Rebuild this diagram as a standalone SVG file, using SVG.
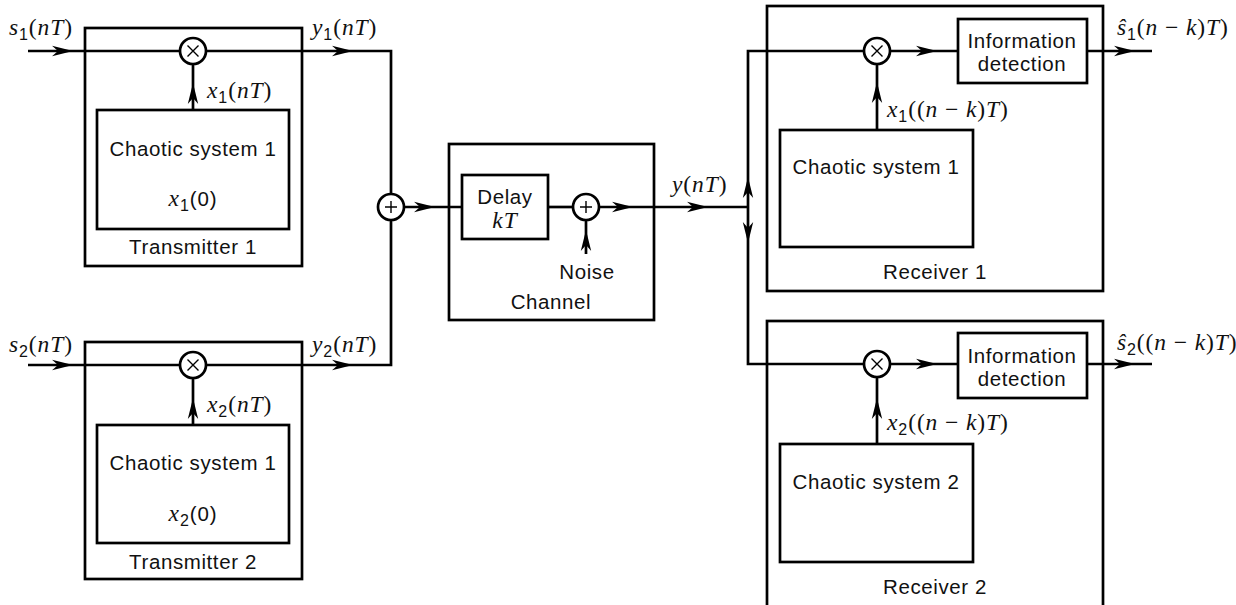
<svg xmlns="http://www.w3.org/2000/svg" width="1236" height="605" viewBox="0 0 1236 605">
<style>
.bx{fill:none;stroke:#000;stroke-width:2.7}
.ln{fill:none;stroke:#000;stroke-width:2.7}
.op{fill:#fff;stroke:#000;stroke-width:2.7}
.sym{fill:none;stroke:#000;stroke-width:1.4}
.t{font-family:"Liberation Sans",Arial,sans-serif;font-size:20.5px;letter-spacing:0.6px;fill:#111}
.c{text-anchor:middle}
.m{font-family:"Liberation Serif","Times New Roman",serif;font-size:23.5px;letter-spacing:0.9px;fill:#111}
.i{font-style:italic}
.sb{font-family:"Liberation Sans",Arial,sans-serif;font-size:16px}
.sf{font-family:"Liberation Sans",Arial,sans-serif;font-size:20.5px}
</style>
<defs>
<path id="ah" d="M0,0 L-21,-5.2 L-15,0 L-21,5.2 Z" fill="#000"/>
<g id="mul"><circle r="13" class="op"/><path class="sym" d="M-5.5,-5.5 L5.5,5.5 M-5.5,5.5 L5.5,-5.5"/></g>
<g id="add"><circle r="13" class="op"/><path class="sym" d="M-6,0 L6,0 M0,-6 L0,6"/></g>
</defs>

<g id="connectors">
<!-- transmitter 1 -->
<path class="ln" d="M28,51 L180,51"/>
<path class="ln" d="M206,51 L391,51 L391,194"/>
<path class="ln" d="M193,110 L193,64"/>
<use href="#ah" transform="translate(73,51)"/>
<use href="#ah" transform="translate(353,51)"/>
<use href="#ah" transform="translate(193,83) rotate(-90)"/>
<!-- transmitter 2 -->
<path class="ln" d="M28,365 L180,365"/>
<path class="ln" d="M206,365 L391,365 L391,220"/>
<path class="ln" d="M193,425 L193,378"/>
<use href="#ah" transform="translate(73,365)"/>
<use href="#ah" transform="translate(353,365)"/>
<use href="#ah" transform="translate(193,398) rotate(-90)"/>
<!-- sum to channel -->
<path class="ln" d="M404,207 L462,207"/>
<use href="#ah" transform="translate(435,207)"/>
<path class="ln" d="M548,207 L573,207"/>
<path class="ln" d="M599,207 L748,207"/>
<use href="#ah" transform="translate(633,207)"/>
<use href="#ah" transform="translate(708,207)"/>
<path class="ln" d="M586,254 L586,220"/>
<use href="#ah" transform="translate(586,230) rotate(-90)"/>
<!-- distribution -->
<path class="ln" d="M864,51 L748,51 L748,364 L864,364"/>
<use href="#ah" transform="translate(748,177) rotate(-90)"/>
<use href="#ah" transform="translate(748,243) rotate(90)"/>
<!-- receiver 1 -->
<path class="ln" d="M890,51 L958,51"/>
<use href="#ah" transform="translate(937,51)"/>
<path class="ln" d="M1087,51 L1152,51"/>
<use href="#ah" transform="translate(1135,51)"/>
<path class="ln" d="M877,130 L877,64"/>
<use href="#ah" transform="translate(877,82) rotate(-90)"/>
<!-- receiver 2 -->
<path class="ln" d="M890,364 L958,364"/>
<use href="#ah" transform="translate(937,364)"/>
<path class="ln" d="M1087,364 L1152,364"/>
<use href="#ah" transform="translate(1135,364)"/>
<path class="ln" d="M877,444 L877,377"/>
<use href="#ah" transform="translate(877,398) rotate(-90)"/>
</g>

<g id="transmitter1">
<rect class="bx" x="85" y="28" width="217" height="238"/>
<rect class="bx" x="97" y="110" width="192" height="119"/>
<text class="t c" x="193" y="156">Chaotic system 1</text>
<text class="m c" x="193" y="206"><tspan class="i">x</tspan><tspan class="sb" dy="5">1</tspan><tspan class="sf" dy="-5">(0)</tspan></text>
<text class="t c" x="193" y="254">Transmitter 1</text>
<use href="#mul" x="193" y="51"/>
</g>

<g id="transmitter2">
<rect class="bx" x="85" y="342" width="217" height="237"/>
<rect class="bx" x="97" y="425" width="192" height="118"/>
<text class="t c" x="193" y="470">Chaotic system 1</text>
<text class="m c" x="193" y="521"><tspan class="i">x</tspan><tspan class="sb" dy="5">2</tspan><tspan class="sf" dy="-5">(0)</tspan></text>
<text class="t c" x="193" y="569">Transmitter 2</text>
<use href="#mul" x="193" y="365"/>
</g>

<g id="adder">
<use href="#add" x="391" y="207"/>
</g>

<g id="channel">
<rect class="bx" x="449" y="144" width="205" height="176"/>
<rect class="bx" x="462" y="175" width="86" height="64"/>
<text class="t c" x="505" y="204">Delay</text>
<text class="m c" x="505" y="228"><tspan class="i">kT</tspan></text>
<use href="#add" x="586" y="207"/>
<text class="t c" x="587" y="279">Noise</text>
<text class="t c" x="551" y="309">Channel</text>
</g>

<g id="receiver1">
<rect class="bx" x="767" y="6" width="336" height="285"/>
<rect class="bx" x="958" y="19" width="129" height="64"/>
<text class="t c" x="1022" y="48">Information</text>
<text class="t c" x="1022" y="71">detection</text>
<rect class="bx" x="780" y="130" width="193" height="117"/>
<text class="t c" x="876" y="174">Chaotic system 1</text>
<text class="t c" x="935" y="279">Receiver 1</text>
<use href="#mul" x="877" y="51"/>
</g>

<g id="receiver2">
<rect class="bx" x="767" y="321" width="336" height="290"/>
<rect class="bx" x="958" y="333" width="129" height="65"/>
<text class="t c" x="1022" y="363">Information</text>
<text class="t c" x="1022" y="386">detection</text>
<rect class="bx" x="780" y="444" width="193" height="118"/>
<text class="t c" x="876" y="489">Chaotic system 2</text>
<text class="t c" x="935" y="594">Receiver 2</text>
<use href="#mul" x="877" y="364"/>
</g>

<g id="labels">
<text class="m" x="9" y="35"><tspan class="i">s</tspan><tspan class="sb" dy="5">1</tspan><tspan dy="-5">(</tspan><tspan class="i">nT</tspan>)</text>
<text class="m" x="312" y="35"><tspan class="i">y</tspan><tspan class="sb" dy="5">1</tspan><tspan dy="-5">(</tspan><tspan class="i">nT</tspan>)</text>
<text class="m" x="207" y="98"><tspan class="i">x</tspan><tspan class="sb" dy="5">1</tspan><tspan dy="-5">(</tspan><tspan class="i">nT</tspan>)</text>
<text class="m" x="9" y="352"><tspan class="i">s</tspan><tspan class="sb" dy="5">2</tspan><tspan dy="-5">(</tspan><tspan class="i">nT</tspan>)</text>
<text class="m" x="312" y="352"><tspan class="i">y</tspan><tspan class="sb" dy="5">2</tspan><tspan dy="-5">(</tspan><tspan class="i">nT</tspan>)</text>
<text class="m" x="207" y="412"><tspan class="i">x</tspan><tspan class="sb" dy="5">2</tspan><tspan dy="-5">(</tspan><tspan class="i">nT</tspan>)</text>
<text class="m" x="672" y="192"><tspan class="i">y</tspan>(<tspan class="i">nT</tspan>)</text>
<text class="m" x="887" y="117"><tspan class="i">x</tspan><tspan class="sb" dy="5">1</tspan><tspan dy="-5">((</tspan><tspan class="i">n</tspan> − <tspan class="i">k</tspan>)<tspan class="i">T</tspan>)</text>
<text class="m" x="887" y="430"><tspan class="i">x</tspan><tspan class="sb" dy="5">2</tspan><tspan dy="-5">((</tspan><tspan class="i">n</tspan> − <tspan class="i">k</tspan>)<tspan class="i">T</tspan>)</text>
<text class="m" x="1117" y="35"><tspan class="i">ŝ</tspan><tspan class="sb" dy="5">1</tspan><tspan dy="-5">(</tspan><tspan class="i">n</tspan> − <tspan class="i">k</tspan>)<tspan class="i">T</tspan>)</text>
<text class="m" x="1117" y="350"><tspan class="i">ŝ</tspan><tspan class="sb" dy="5">2</tspan><tspan dy="-5">((</tspan><tspan class="i">n</tspan> − <tspan class="i">k</tspan>)<tspan class="i">T</tspan>)</text>
</g>
</svg>
